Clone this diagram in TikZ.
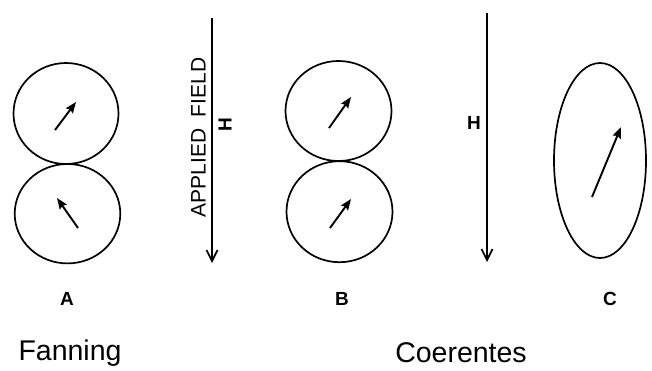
\documentclass[tikz,border=0pt]{standalone}
\usepackage{fontspec}
\setmainfont{Liberation Sans}
\usetikzlibrary{arrows.meta}
\tikzset{
  domline/.style={line width=1.7pt},
  mvec/.style={line width=1.9pt,-{Stealth[length=11pt,width=8.5pt,inset=1.5pt]}},
  fieldarrow/.style={line width=1.8pt,-{Straight Barb[length=11pt,width=11pt,line width=1.7pt]}},
  letter/.style={inner sep=0pt,font=\fontsize{19}{19}\selectfont\bfseries},
  caption/.style={inner sep=0pt,font=\fontsize{28.5}{28.5}\selectfont},
  hlab/.style={inner sep=0pt,font=\fontsize{19}{19}\selectfont\bfseries}
}
\begin{document}
\begin{tikzpicture}[x=1pt,y=-1pt]
\useasboundingbox (0,0) rectangle (652,370);
% A: fanning
\draw[domline] (66,113.5) ellipse [x radius=52.5, y radius=50.5];
\draw[domline] (67.5,213.7) ellipse [x radius=52.8, y radius=49.7];
\coordinate (a1t) at (55,130); \coordinate (a1h) at (76,102);
\coordinate (a2t) at (78,228); \coordinate (a2h) at (57,198);
\draw[mvec] (a1t) -- (a1h);
\draw[mvec] (a2t) -- (a2h);
% applied field
\coordinate (f1s) at (212,18); \coordinate (f1e) at (212,263);
\draw[fieldarrow] (f1s) -- (f1e);
\node[rotate=90, inner sep=0pt, font=\fontsize{21}{21}\selectfont] (af) at (198.5,137.5) {APPLIED\ \ FIELD};
\node[hlab, rotate=90] (h1) at (225,125) {H};
% B: coherent pair
\draw[domline] (338.5,111) ellipse [x radius=53, y radius=50];
\draw[domline] (339.5,211.7) ellipse [x radius=53, y radius=50.5];
\coordinate (b1t) at (329,128); \coordinate (b1h) at (351,97);
\coordinate (b2t) at (330,228); \coordinate (b2h) at (351,199);
\draw[mvec] (b1t) -- (b1h);
\draw[mvec] (b2t) -- (b2h);
% second field
\coordinate (f2s) at (487,13); \coordinate (f2e) at (487,262);
\draw[fieldarrow] (f2s) -- (f2e);
\node[hlab] (h2) at (474,123) {H};
% C: ellipse
\draw[domline] (600,160.5) ellipse [x radius=46, y radius=97.5];
\coordinate (ct) at (592,197); \coordinate (ch) at (621,127);
\draw[mvec] (ct) -- (ch);
% labels
\node[letter] (la) at (67,299) {A};
\node[letter] (lb) at (342,299) {B};
\node[letter] (lc) at (610,299) {C};
\node[caption] (fan) at (70,353) {Fanning};
\node[caption] (coe) at (461,353) {Coerentes};
\end{tikzpicture}
\end{document}
